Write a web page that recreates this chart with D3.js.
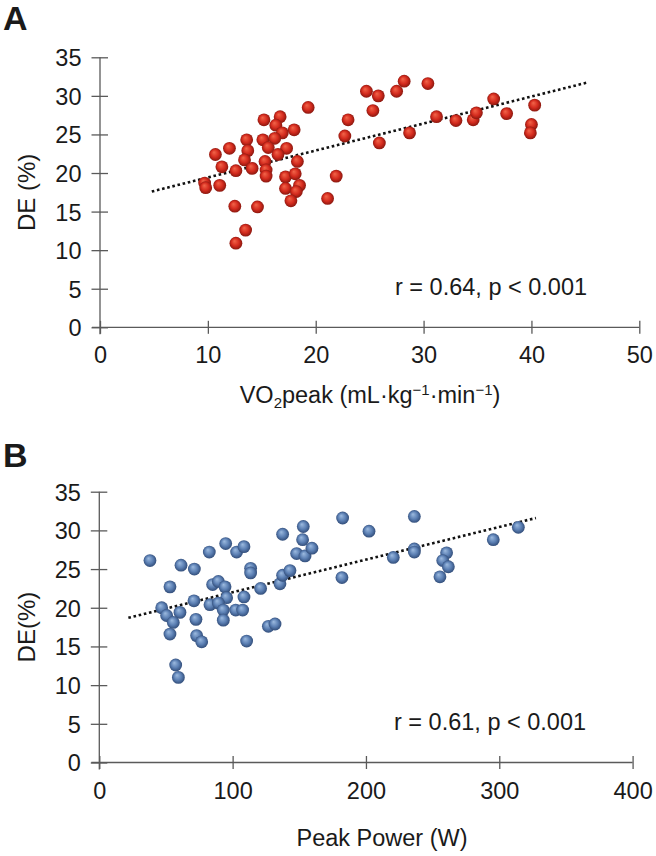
<!DOCTYPE html>
<html>
<head>
<meta charset="utf-8">
<script src="https://cdn.jsdelivr.net/npm/d3@7"></script>
<style>
  body { margin: 0; background: #fff; }
  text { font-family: "Liberation Sans", Arial, sans-serif; fill: #1a1a1a; }
</style>
</head>
<body>
<svg id="chart" width="656" height="856"></svg>
<script>
// ---------- Data ----------
const vo2Peak = [19.3,15.2,16.7,16.3,18.0,16.9,13.6,15.1,16.2,10.7,12.0,13.7,15.6,17.3,16.5,13.4,15.3,18.3,11.3,12.6,14.1,15.4,15.4,9.7,9.8,11.1,17.2,18.1,17.2,18.5,18.2,17.7,12.5,14.6,21.1,21.9,13.5,12.6,23.0,22.7,24.7,25.8,28.2,27.5,30.4,25.3,25.9,28.7,31.2,33.0,34.6,34.9,36.5,37.7,40.3,40.0,39.9];
const deA     = [28.5,26.9,27.3,26.2,25.6,25.2,24.3,24.3,24.5,22.4,23.2,22.9,23.3,23.2,22.4,21.7,21.5,21.5,20.8,20.3,20.6,20.4,19.6,18.7,18.1,18.4,19.5,19.9,18.0,18.4,17.6,16.4,15.7,15.6,16.7,19.6,12.6,10.9,26.9,24.8,30.6,30.0,31.9,30.6,31.6,28.1,23.9,25.2,27.3,26.8,26.9,27.8,29.6,27.7,28.8,26.3,25.2];

const peakPower = [38.0,61.3,71.3,82.5,94.8,103.0,108.5,137.5,153.0,152.5,148.0,154.3,159.5,182.5,182.0,113.5,113.5,53.0,85.0,89.3,94.3,95.5,108.5,121.0,135.5,137.5,143.0,71.0,46.8,50.5,60.5,55.5,83.0,89.3,93.0,102.3,107.5,72.5,93.0,53.0,73.0,76.8,110.5,126.8,131.8,57.3,59.3,202.3,236.3,220.5,236.3,236.3,260.5,257.6,261.8,255.5,295.5,314.3];
const deB       = [26.1,25.5,25.0,27.2,28.3,27.2,27.9,29.5,30.5,28.8,27.0,26.7,27.7,31.6,23.9,25.1,24.5,22.7,23.0,23.4,22.7,21.3,21.4,22.5,23.1,24.2,24.8,20.9,20.0,19.0,19.4,18.1,20.4,20.6,19.7,19.7,19.7,18.5,18.4,16.6,16.4,15.6,15.7,17.6,17.9,12.6,11.0,29.9,31.8,26.5,27.6,27.2,27.1,26.1,25.3,24.0,28.8,30.4];

// trend line end points
const trendAx = [4.8, 45.1], trendAy = [17.6, 31.7];
const trendBx = [21.8, 327.5], trendBy = [18.7, 31.6];

const yTicks = [0,5,10,15,20,25,30,35];
const xTicksA = [0,10,20,30,40,50];
const xTicksB = [0,100,200,300,400];
const statA = "r = 0.64, p < 0.001";
const statB = "r = 0.61, p < 0.001";

// ---------- Drawing ----------
const svg = d3.select("#chart");
svg.append("rect").attr("width",656).attr("height",856).attr("fill","#fff");

const defs = svg.append("defs");
function sphereGrad(id, c0, c1, c2) {
  const g = defs.append("radialGradient").attr("id", id)
    .attr("cx","50%").attr("cy","50%").attr("r","55%")
    .attr("fx","38%").attr("fy","32%");
  g.append("stop").attr("offset","0%").attr("stop-color", c0);
  g.append("stop").attr("offset","55%").attr("stop-color", c1);
  g.append("stop").attr("offset","100%").attr("stop-color", c2);
}
sphereGrad("gRed", "#f2664a", "#d42b1e", "#7d140c");
sphereGrad("gBlue", "#9dbbe0", "#5b7fb3", "#2b4570");

const FS = 23.5;
const axisColor = "#5a5a5a";

function panel(cfg) {
  const x = d3.scaleLinear().domain(cfg.xDomain).range(cfg.xRange);
  const y = d3.scaleLinear().domain([0,35]).range(cfg.yRange);
  const g = svg.append("g");

  // x axis
  const xa = g.append("g").attr("transform", `translate(0,${cfg.yRange[0]})`)
    .call(d3.axisBottom(x).tickValues(cfg.xTicks).tickSize(7).tickFormat(d3.format("d")));
  xa.select(".domain").attr("stroke", axisColor).attr("stroke-width",1.3)
    .attr("d", `M${cfg.xRange[0]-8},0H${cfg.xRange[1]}`);
  xa.selectAll(".tick line").attr("y1",-6.5).attr("y2",6.5).attr("stroke",axisColor).attr("stroke-width",1.3);
  xa.selectAll(".tick text").attr("y", 36).attr("dy", 0)
    .style("font-size", FS+"px").attr("fill","#1a1a1a").style("font-family","Liberation Sans, Arial, sans-serif");

  // y axis
  const ya = g.append("g").attr("transform", `translate(${cfg.xRange[0]},0)`)
    .call(d3.axisLeft(y).tickValues(yTicks).tickSize(8));
  ya.select(".domain").attr("stroke", axisColor).attr("stroke-width",1.3)
    .attr("d", `M0,${cfg.yRange[0]+7}V${cfg.yRange[1]}`);
  ya.selectAll(".tick line").attr("x1",-8.5).attr("x2",8).attr("stroke",axisColor).attr("stroke-width",1.3);
  ya.selectAll(".tick text").attr("x", -18.5).attr("dy", "0.36em")
    .style("font-size", FS+"px").attr("fill","#1a1a1a").style("font-family","Liberation Sans, Arial, sans-serif");

  // trend line
  g.append("line")
    .attr("x1", x(cfg.trendX[0])).attr("y1", y(cfg.trendY[0]))
    .attr("x2", x(cfg.trendX[1])).attr("y2", y(cfg.trendY[1]))
    .attr("stroke","#111").attr("stroke-width",2.6).attr("stroke-dasharray","2.6,2.7");

  // points
  g.append("g").selectAll("circle").data(cfg.xs.map((v,i)=>[v,cfg.ys[i]]))
    .join("circle")
    .attr("cx", d=>x(d[0])).attr("cy", d=>y(d[1])).attr("r", 6.4)
    .attr("fill", `url(#${cfg.grad})`);

  // y title
  g.append("text")
    .attr("transform", `translate(${cfg.yTitleX},${(cfg.yRange[0]+cfg.yRange[1])/2}) rotate(-90)`)
    .attr("text-anchor","middle").style("font-size","24px").text(cfg.yTitle);

  // stat
  g.append("text").attr("x", cfg.statX).attr("y", cfg.statY)
    .style("font-size", FS+"px").text(cfg.stat);

  // panel letter
  g.append("text").attr("x", cfg.letterX).attr("y", cfg.letterY)
    .style("font-size","34px").style("font-weight","bold").attr("fill","#000").text(cfg.letter);
  return {x, y, g};
}

const pA = panel({
  xDomain:[0,50], xRange:[100,639.3], yRange:[327.3,57.3], xTicks:xTicksA,
  trendX:trendAx, trendY:trendAy, xs:vo2Peak, ys:deA, grad:"gRed",
  yTitle:"DE (%)", yTitleX:35, stat:statA, statX:395, statY:295,
  letter:"A", letterX:3, letterY:30
});
const tA = pA.g.append("text").attr("x", 370).attr("y", 403)
  .attr("text-anchor","middle").style("font-size", FS+"px");
tA.append("tspan").text("VO");
tA.append("tspan").attr("dy", 5).style("font-size","15px").text("2");
tA.append("tspan").attr("dy", -5).text("peak (mL·kg");
tA.append("tspan").attr("dy", -8).style("font-size","15px").text("−1");
tA.append("tspan").attr("dy", 8).text("·min");
tA.append("tspan").attr("dy", -8).style("font-size","15px").text("−1");
tA.append("tspan").attr("dy", 8).text(")");

const pB = panel({
  xDomain:[0,400], xRange:[99.3,632.6], yRange:[762.5,491.7], xTicks:xTicksB,
  trendX:trendBx, trendY:trendBy, xs:peakPower, ys:deB, grad:"gBlue",
  yTitle:"DE(%)", yTitleX:35, stat:statB, statX:394, statY:730,
  letter:"B", letterX:3, letterY:466.5
});
pB.g.append("text").attr("x", 382).attr("y", 846)
  .attr("text-anchor","middle").style("font-size", FS+"px").text("Peak Power (W)");
</script>
</body>
</html>
